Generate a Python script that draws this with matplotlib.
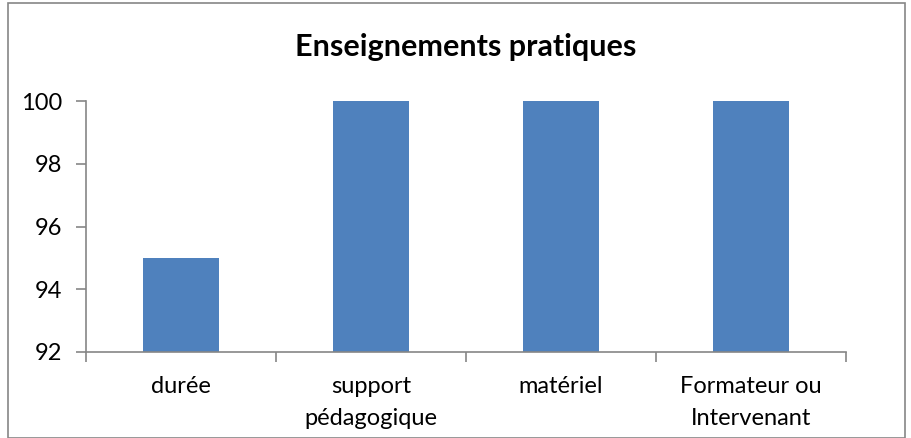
import matplotlib
matplotlib.use("Agg")
import matplotlib.pyplot as plt
from matplotlib.patches import Rectangle

categories = ["durée", "support\npédagogique", "matériel", "Formateur ou\nIntervenant"]
values = [95, 100, 100, 100]
yticks = [92, 94, 96, 98, 100]

BAR_COLOR = "#4F81BD"
AXIS_COLOR = "#868686"

plt.rcParams["font.family"] = ["Lato", "DejaVu Sans"]

fig = plt.figure(figsize=(9.12, 4.38), dpi=100)
ax = fig.add_axes([86 / 912, 1 - 352 / 438, 760 / 912, 251 / 438])

x = list(range(len(categories)))
ax.bar(x, values, width=0.4, color=BAR_COLOR, zorder=2)

ax.set_xlim(-0.5, len(categories) - 0.5)
ax.set_ylim(92, 100)
ax.set_yticks(yticks)
ax.set_yticklabels([str(v) for v in yticks], fontsize=17)

# category labels centered, tick marks between categories
ax.set_xticks(x)
ax.set_xticklabels(categories, fontsize=17, linespacing=1.65)
ax.tick_params(axis="x", which="major", length=0, pad=17)
ax.set_xticks([i - 0.5 for i in range(len(categories) + 1)], minor=True)
ax.tick_params(axis="x", which="minor", length=7, width=1.2, color=AXIS_COLOR, direction="out")
ax.tick_params(axis="y", length=7, width=1.2, color=AXIS_COLOR, pad=10)

for s in ["top", "right"]:
    ax.spines[s].set_visible(False)
for s in ["left", "bottom"]:
    ax.spines[s].set_color(AXIS_COLOR)
    ax.spines[s].set_linewidth(1.2)

fig.text(466 / 912, 1 - 47 / 438, "Enseignements pratiques", ha="center", va="center",
         fontsize=22, fontweight="bold")

# chart border
fig.patches.append(Rectangle((8 / 912, 0.001), 897 / 912, 1 - 3 / 438, transform=fig.transFigure,
                             fill=False, edgecolor=AXIS_COLOR, linewidth=1.2))

fig.savefig("out.png", dpi=100)
